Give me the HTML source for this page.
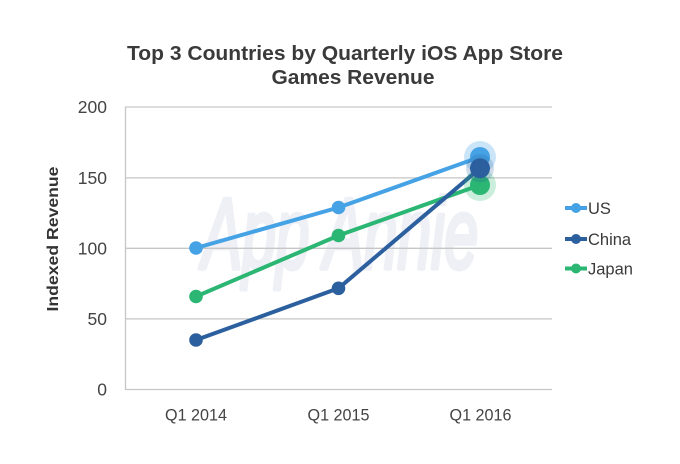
<!DOCTYPE html>
<html><head><meta charset="utf-8"><style>
html,body{margin:0;padding:0;background:#fff;}
svg{display:block;}
text{font-family:"Liberation Sans",sans-serif;}
</style></head><body>
<svg width="680" height="464" viewBox="0 0 680 464" xmlns="http://www.w3.org/2000/svg">
<rect width="680" height="464" fill="#fff"/>
<!-- title -->
<text x="345" y="60" text-anchor="middle" font-size="20" font-weight="bold" fill="#3a3a3a" textLength="436" lengthAdjust="spacingAndGlyphs">Top 3 Countries by Quarterly iOS App Store</text>
<text x="353" y="84" text-anchor="middle" font-size="20" font-weight="bold" fill="#3a3a3a" textLength="163" lengthAdjust="spacingAndGlyphs">Games Revenue</text>
<!-- watermark -->
<text x="202" y="268" font-size="100" font-style="italic" fill="#eef0f5" stroke="#eef0f5" stroke-width="5" stroke-linejoin="round" textLength="276" lengthAdjust="spacingAndGlyphs">App Annie</text>
<!-- grid -->
<g stroke="#c6c6c6" stroke-width="1.3" fill="none">
<line x1="125" y1="107" x2="552" y2="107"/>
<line x1="125" y1="177.9" x2="552" y2="177.9"/>
<line x1="125" y1="248.3" x2="552" y2="248.3"/>
<line x1="125" y1="318.9" x2="552" y2="318.9"/>
<line x1="125" y1="389.5" x2="552" y2="389.5"/>
<line x1="125.5" y1="106.5" x2="125.5" y2="390"/>
</g>
<!-- y tick labels -->
<g font-size="17.5" fill="#444" text-anchor="end">
<text x="107" y="113">200</text>
<text x="107" y="184">150</text>
<text x="107" y="254.5">100</text>
<text x="107" y="325">50</text>
<text x="107" y="395.5">0</text>
</g>
<!-- x labels -->
<g font-size="16.5" fill="#444" text-anchor="middle">
<text x="196" y="420.5" textLength="62" lengthAdjust="spacingAndGlyphs">Q1 2014</text>
<text x="338.5" y="420.5" textLength="62" lengthAdjust="spacingAndGlyphs">Q1 2015</text>
<text x="480.5" y="420.5" textLength="62" lengthAdjust="spacingAndGlyphs">Q1 2016</text>
</g>
<!-- y title -->
<text transform="translate(58,239) rotate(-90)" text-anchor="middle" font-size="15.5" font-weight="bold" fill="#333" textLength="145" lengthAdjust="spacingAndGlyphs">Indexed Revenue</text>
<!-- Japan -->
<polyline points="196,296.5 338.5,235.5 480,185" fill="none" stroke="#2bb673" stroke-width="4" stroke-linejoin="round"/>
<circle cx="196" cy="296.5" r="6.8" fill="#2bb673"/>
<circle cx="338.5" cy="235.5" r="6.8" fill="#2bb673"/>
<!-- US -->
<polyline points="196,248 338.5,207.5 480,157" fill="none" stroke="#45a2e5" stroke-width="4" stroke-linejoin="round"/>
<circle cx="196" cy="248" r="6.8" fill="#45a2e5"/>
<circle cx="338.5" cy="207.5" r="6.8" fill="#45a2e5"/>
<!-- China -->
<polyline points="196,340 338.5,288.3 480,168.3" fill="none" stroke="#2b5f9e" stroke-width="4" stroke-linejoin="round"/>
<circle cx="196" cy="340" r="6.8" fill="#2b5f9e"/>
<circle cx="338.5" cy="288.3" r="6.8" fill="#2b5f9e"/>
<!-- highlighted 2016 markers -->
<circle cx="480" cy="185" r="16" fill="#2bb673" fill-opacity="0.25"/>
<circle cx="480" cy="185" r="10" fill="#2bb673"/>
<circle cx="480" cy="157" r="16" fill="#45a2e5" fill-opacity="0.28"/>
<circle cx="480" cy="157" r="10" fill="#45a2e5"/>
<circle cx="480" cy="168.3" r="14" fill="#2b5f9e" fill-opacity="0.22"/>
<circle cx="480" cy="168.3" r="10" fill="#2b5f9e"/>
<!-- legend -->
<g stroke-width="4">
<line x1="565" y1="208" x2="587" y2="208" stroke="#45a2e5"/>
<line x1="565" y1="239" x2="587" y2="239" stroke="#2b5f9e"/>
<line x1="565" y1="268.5" x2="587" y2="268.5" stroke="#2bb673"/>
</g>
<circle cx="576" cy="208" r="5" fill="#45a2e5"/>
<circle cx="576" cy="239" r="5" fill="#2b5f9e"/>
<circle cx="576" cy="268.5" r="5" fill="#2bb673"/>
<g font-size="16.5" fill="#3a3a3a">
<text x="588" y="214">US</text>
<text x="588" y="245">China</text>
<text x="588" y="274.5">Japan</text>
</g>
</svg>
</body></html>
